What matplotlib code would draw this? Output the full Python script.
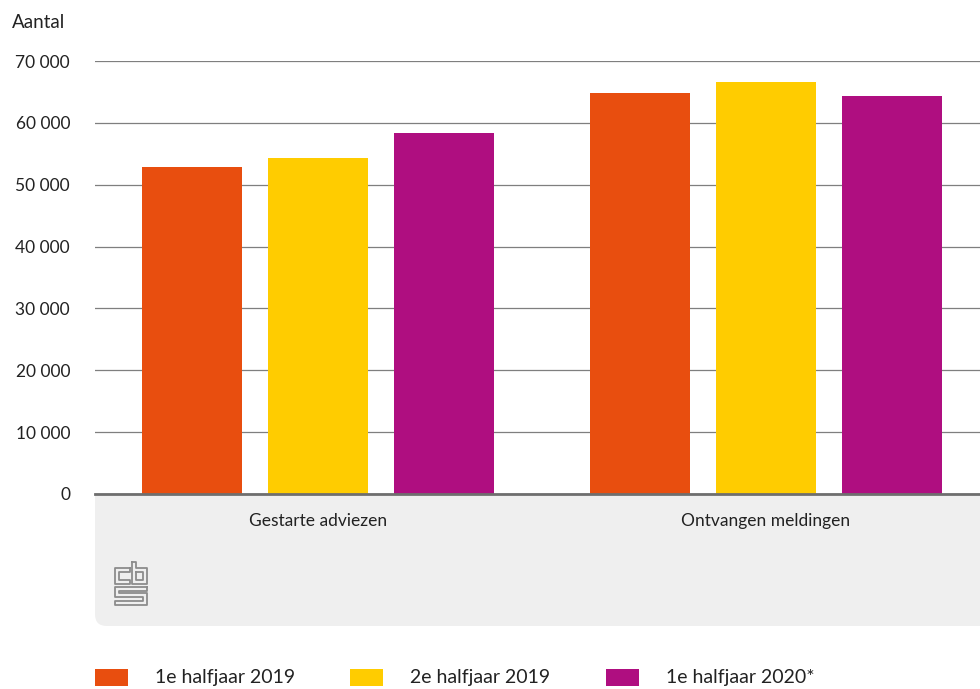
import matplotlib
matplotlib.use("Agg")
import matplotlib.pyplot as plt
import matplotlib.patches as mpatches
from matplotlib.lines import Line2D
import numpy as np

plt.rcParams["font.family"] = ["Lato", "DejaVu Sans"]

categories = ["Gestarte adviezen", "Ontvangen meldingen"]
series = ["1e halfjaar 2019", "2e halfjaar 2019", "1e halfjaar 2020*"]
values_h1_2019 = [52900, 64800]
values_h2_2019 = [54300, 66600]
values_h1_2020 = [58400, 64300]
yticks = [0, 10000, 20000, 30000, 40000, 50000, 60000, 70000]
ytick_labels = ["0", "10 000", "20 000", "30 000", "40 000", "50 000", "60 000", "70 000"]

COLORS = ["#E84E0F", "#FFCC00", "#AF0E80"]
TEXT = "#222222"
W, H = 980, 689


def fx(x):
    return x / W


def fy(y):
    return 1 - y / H


fig = plt.figure(figsize=(W / 100, H / 100), dpi=100)
ax = fig.add_axes([fx(95), fy(494), (980 - 95) / W, (494 - 61) / H])

x = np.arange(len(categories))
width = 0.223
step = 0.281
for i, (vals, col) in enumerate(zip([values_h1_2019, values_h2_2019, values_h1_2020], COLORS)):
    ax.bar(x + (i - 1) * step, vals, width=width, color=col, zorder=3)

ax.set_xlim(-0.498, 1.478)
ax.set_ylim(0, 70000)
ax.set_yticks(yticks)
ax.set_yticklabels(ytick_labels, fontsize=12.5, color=TEXT)
ax.tick_params(axis="y", length=0, pad=18)
ax.set_xticks([])
ax.grid(axis="y", color="#7f7f7f", linewidth=0.9, zorder=1)
ax.set_axisbelow(True)
for s in ["top", "right", "left"]:
    ax.spines[s].set_visible(False)
ax.spines["bottom"].set_color("#6e6e6e")
ax.spines["bottom"].set_linewidth(2.0)
ax.spines["bottom"].set_zorder(4)

# category labels inside the grey band
for xi, cat in zip(x, categories):
    ax.text(xi, -27 / 433, cat, transform=ax.get_xaxis_transform(), ha="center", va="center",
            fontsize=12.5, color=TEXT, clip_on=False)

fig.text(fx(12), fy(22), "Aantal", fontsize=13.5, color=TEXT, ha="left", va="center")

# grey band below the axis, rounded bottom-left corner
band = mpatches.FancyBboxPatch((fx(95), fy(626)), fx(980), fy(460) - fy(626),
                               boxstyle="round,pad=0,rounding_size=0.012",
                               transform=fig.transFigure, facecolor="#efefef",
                               edgecolor="none", zorder=-1, mutation_aspect=W / H)
fig.add_artist(band)

# cbs logo (simplified outline)
logo = [
    [(130, 568), (115, 568), (115, 584), (130, 584), (130, 580), (119, 580), (119, 572), (130, 572), (130, 568)],
    [(132, 562), (132, 584), (147, 584), (147, 568), (136, 568), (136, 562), (132, 562)],
    [(136, 572), (143, 572), (143, 580), (136, 580), (136, 572)],
    [(147, 587), (115, 587), (115, 597), (143, 597), (143, 601), (115, 601), (115, 605),
     (147, 605), (147, 593), (119, 593), (119, 591), (147, 591), (147, 587)],
]
for pts in logo:
    xs = [fx(p[0]) for p in pts]
    ys = [fy(p[1]) for p in pts]
    fig.add_artist(Line2D(xs, ys, color="#8c8c8c", linewidth=1.3, transform=fig.transFigure))

# legend
leg_x = [95, 350, 606]
for lx, col, lab in zip(leg_x, COLORS, series):
    fig.add_artist(mpatches.Rectangle((fx(lx), fy(686)), 33 / W, 17 / H, facecolor=col,
                                      edgecolor="none", transform=fig.transFigure))
    fig.text(fx(lx + 60), fy(677), lab, fontsize=14, color=TEXT, ha="left", va="center")

fig.savefig("out.png", dpi=100)
